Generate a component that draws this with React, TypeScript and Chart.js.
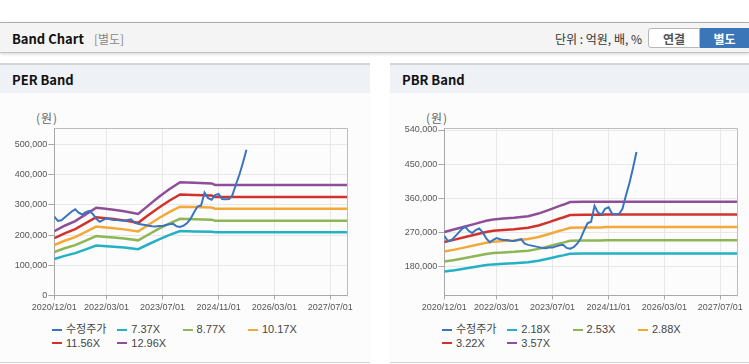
import React, { useEffect, useRef } from "react";
import { Chart, registerables } from "chart.js";
Chart.register(...registerables);

// ---------- data ----------
const priceDates = [
  "2020-12-01", "2021-01-01", "2021-02-01", "2021-03-01", "2021-04-01", "2021-05-01", "2021-06-01", "2021-07-01", "2021-08-01", "2021-09-01", "2021-10-01", "2021-11-01",
  "2021-12-01", "2022-01-01", "2022-02-01", "2022-03-01", "2022-04-01", "2022-05-01", "2022-06-01", "2022-07-01", "2022-08-01", "2022-09-01", "2022-10-01", "2022-11-01",
  "2022-12-01", "2023-01-01", "2023-02-01", "2023-03-01", "2023-04-01", "2023-05-01", "2023-06-01", "2023-07-01", "2023-08-01", "2023-09-01", "2023-10-01", "2023-11-01",
  "2023-12-01", "2024-01-01", "2024-02-01", "2024-03-01", "2024-04-01", "2024-05-01", "2024-06-01", "2024-07-01", "2024-08-01", "2024-09-01", "2024-10-01", "2024-11-01",
  "2024-12-01", "2025-01-01", "2025-02-01", "2025-03-01", "2025-04-01", "2025-05-01", "2025-06-01", "2025-07-01",
];
const priceValues = [
  261000, 247000, 249000, 258000, 268000, 278000, 285000, 274000, 268000, 276000, 280000, 270000,
  254000, 244000, 250000, 255000, 252000, 250000, 250000, 248000, 247000, 250000, 252000, 240000,
  237000, 235000, 233000, 231000, 229000, 228000, 230000, 230000, 233000, 236000, 237000, 229000,
  227000, 231000, 240000, 253000, 275000, 294000, 298000, 340000, 322000, 317000, 332000, 336000,
  319000, 318000, 319000, 332000, 368000, 400000, 440000, 482000,
];

const perBandDates = [
  "2020-12-01", "2021-03-01", "2021-06-01", "2021-09-01", "2021-12-01", "2022-02-01", "2022-05-01", "2022-08-01",
  "2022-12-01", "2023-03-01", "2023-06-01", "2023-09-01", "2023-12-01", "2024-04-01", "2024-09-01", "2024-10-01", "2027-11-26",
];
const perBand737 = [120900, 131200, 140000, 152600, 165100, 163600, 161400, 158500, 153300, 169500, 185700, 200500, 213000, 211900, 210800, 209500, 209500];
const perBand877 = [143800, 156100, 166600, 181500, 196400, 194700, 192100, 188600, 182400, 201700, 221000, 238500, 253500, 252100, 250800, 247300, 247300];
const perBand1017 = [166800, 181000, 193200, 210500, 227800, 225800, 222700, 218700, 211500, 233900, 256300, 276600, 293900, 292400, 290900, 286800, 286800];
const perBand1156 = [189600, 205800, 219600, 239300, 258900, 256600, 253200, 248500, 240400, 265900, 291300, 314400, 334100, 332400, 330600, 326000, 326000];
const perBand1296 = [212500, 230700, 246200, 268300, 290300, 287700, 283800, 278600, 269600, 298100, 326600, 352500, 374500, 372600, 370700, 365500, 365500];
const perNames = ["수정주가", "7.37X", "8.77X", "10.17X", "11.56X", "12.96X"];
const perYTicks = [0, 100000, 200000, 300000, 400000, 500000];

const pbrBandDates = [
  "2020-12-01", "2021-03-01", "2021-06-01", "2021-09-01", "2021-12-01", "2022-02-01", "2022-05-01", "2022-08-01",
  "2022-12-01", "2023-03-01", "2023-06-01", "2023-09-01", "2023-10-01", "2023-12-01", "2024-04-01", "2024-09-01", "2024-10-01", "2027-11-26",
];
const pbrBand218 = [166500, 169800, 174400, 179000, 183600, 185500, 187000, 188400, 191000, 195100, 201000, 207500, 209300, 213600, 214100, 214100, 214500, 214500];
const pbrBand253 = [193000, 197100, 202400, 207700, 213000, 215300, 217100, 218600, 221600, 226400, 233300, 240900, 242900, 247900, 248400, 248400, 249000, 249000];
const pbrBand288 = [219500, 224400, 230400, 236400, 242500, 245100, 247100, 248800, 252300, 257800, 265500, 274200, 276500, 282200, 282800, 282800, 284000, 284000];
const pbrBand322 = [244400, 250800, 257600, 264400, 271100, 274000, 276300, 278200, 282100, 288200, 296900, 306500, 309100, 315600, 316200, 316200, 317000, 317000];
const pbrBand357 = [271000, 278100, 285600, 293100, 300600, 303800, 306300, 308400, 312700, 319500, 329200, 339900, 342700, 349900, 350600, 350600, 351000, 351000];
const pbrNames = ["수정주가", "2.18X", "2.53X", "2.88X", "3.22X", "3.57X"];
const pbrYTicks = [180000, 270000, 360000, 450000, 540000];

const xTickLabels = ["2020/12/01", "2022/03/01", "2023/07/01", "2024/11/01", "2026/03/01", "2027/07/01"];
const xMinDate = "2020-12-01";
const xMaxDate = "2027-11-26";

const seriesColors = ["#3a74c0", "#24b0c5", "#8fb655", "#f4a83a", "#d2322d", "#8e4f98"];

// ---------- helpers ----------
const toMs = (s: string) => {
  const [y, m, d] = s.split(/[-/]/).map(Number);
  return Date.UTC(y, m - 1, d);
};

const FONT_KR = '"Noto Sans CJK KR", "Liberation Sans", sans-serif';
const FONT_TICK = '"Liberation Sans", Arial, sans-serif';

const CANVAS_W = 370;
const CANVAS_H = 222;

const framePlugin = {
  id: "frame",
  afterDatasetsDraw(chart: any) {
    const { ctx, chartArea } = chart;
    const { left, top, right, bottom } = chartArea;
    ctx.save();
    ctx.strokeStyle = "#bdbdbd";
    ctx.lineWidth = 1;
    ctx.beginPath();
    ctx.moveTo(Math.round(left) + 0.5, Math.round(top) + 0.5);
    ctx.lineTo(Math.round(right) + 0.5, Math.round(top) + 0.5);
    ctx.lineTo(Math.round(right) + 0.5, Math.round(bottom) + 0.5);
    ctx.stroke();
    ctx.restore();
  },
};

type BandProps = {
  panelLeft: number;
  yMin: number;
  yMax: number;
  yTicks: number[];
  bandDates: string[];
  bands: number[][];
  names: string[];
};

function BandChart({ panelLeft, yMin, yMax, yTicks, bandDates, bands, names }: BandProps) {
  const ref = useRef<HTMLCanvasElement>(null);
  useEffect(() => {
    if (!ref.current) return;
    const datasets: any[] = [
      {
        label: names[0],
        data: priceDates.map((d, i) => ({ x: toMs(d), y: priceValues[i] })),
        borderColor: seriesColors[0],
        backgroundColor: seriesColors[0],
        borderWidth: 2,
        pointRadius: 0,
        tension: 0,
        fill: false,
      },
      ...bands.map((b, k) => ({
        label: names[k + 1],
        data: bandDates.map((d, i) => ({ x: toMs(d), y: b[i] })),
        borderColor: seriesColors[k + 1],
        backgroundColor: seriesColors[k + 1],
        borderWidth: 2.5,
        pointRadius: 0,
        tension: 0,
        fill: false,
      })),
    ];
    const tickFont = { family: FONT_TICK, size: 9 };
    const chart = new Chart(ref.current, {
      type: "line",
      data: { datasets },
      plugins: [framePlugin],
      options: {
        animation: false,
        responsive: false,
        maintainAspectRatio: false,
        layout: { padding: { top: 33.3, right: 22.7, left: 0, bottom: 0 } },
        plugins: { legend: { display: false }, tooltip: { enabled: false } },
        scales: {
          x: {
            type: "linear",
            min: toMs(xMinDate),
            max: toMs(xMaxDate),
            afterBuildTicks: (s: any) => {
              s.ticks = xTickLabels.map((l) => ({ value: toMs(l) }));
            },
            afterFit: (s: any) => {
              s.height = 21.5;
            },
            ticks: {
              autoSkip: false,
              maxRotation: 0,
              minRotation: 0,
              padding: 3,
              color: "#555",
              font: tickFont,
              callback: (_v: any, i: number) => xTickLabels[i],
            },
            grid: { color: "#e8e8e8", tickColor: "#a8a8a8", tickLength: 4, lineWidth: 1 },
            border: { color: "#a8a8a8", width: 1 },
          },
          y: {
            type: "linear",
            min: yMin,
            max: yMax,
            afterBuildTicks: (s: any) => {
              s.ticks = yTicks.map((v) => ({ value: v }));
            },
            afterFit: (s: any) => {
              s.width = 54.3;
            },
            ticks: {
              padding: 1,
              color: "#555",
              font: tickFont,
              callback: (v: any) => Number(v).toLocaleString("en-US"),
            },
            grid: { color: "#e8e8e8", tickColor: "#a8a8a8", tickLength: 6, lineWidth: 1 },
            border: { color: "#a8a8a8", width: 1 },
          },
        },
      } as any,
    });
    return () => chart.destroy();
  }, []);

  return (
    <>
      <div
        style={{
          position: "absolute",
          left: panelLeft + 36,
          top: 110,
          fontFamily: FONT_KR,
          fontSize: 12,
          letterSpacing: 1,
          color: "#666",
          lineHeight: "16px",
        }}
      >
        (원)
      </div>
      <canvas
        ref={ref}
        width={CANVAS_W}
        height={CANVAS_H}
        style={{ position: "absolute", left: panelLeft, top: 95, width: CANVAS_W, height: CANVAS_H }}
      />
      <div
        style={{
          position: "absolute",
          left: panelLeft + 52,
          top: 323.3,
          display: "grid",
          gridTemplateColumns: "repeat(4, 65.3px)",
          lineHeight: "13.3px",
          fontSize: 11,
          fontFamily: FONT_TICK + ', "Noto Sans CJK KR"',
          color: "#444",
        }}
      >
        {names.map((n, i) => (
          <div key={i} style={{ display: "flex", alignItems: "center", whiteSpace: "nowrap", height: 13.3 }}>
            <span
              style={{
                display: "inline-block",
                width: 10,
                height: 2.5,
                background: seriesColors[i],
                marginRight: 4,
              }}
            />
            {n}
          </div>
        ))}
      </div>
    </>
  );
}

function Panel({ left, width, title }: { left: number; width: number; title: string }) {
  return (
    <>
      <div
        style={{
          position: "absolute",
          left,
          top: 63,
          width,
          height: 300,
          background: "#fcfcfc",
          borderTop: "2px solid #d4d4d4",
          borderBottom: "1px solid #d4d4d4",
          boxSizing: "border-box",
        }}
      />
      <div
        style={{
          position: "absolute",
          left,
          top: 65,
          width,
          height: 28,
          background: "#eef2f7",
        }}
      />
      <div
        style={{
          position: "absolute",
          left: left + 12,
          top: 65,
          height: 28,
          display: "flex",
          alignItems: "center",
          fontFamily: FONT_KR,
          fontWeight: 700,
          fontSize: 13,
          color: "#111",
        }}
      >
        {title}
      </div>
    </>
  );
}

export default function App() {
  return (
    <div
      style={{
        position: "relative",
        width: 749,
        height: 364,
        overflow: "hidden",
        background: "#fff",
      }}
    >
      <style>{`body{margin:0;}`}</style>
      {/* header */}
      <div
        style={{
          position: "absolute",
          left: 0,
          top: 22,
          width: 749,
          height: 31,
          background: "#f4f4f4",
          borderTop: "1px solid #adadad",
          borderBottom: "1px solid #c4c4c4",
          boxShadow: "0 1px 3px rgba(0,0,0,0.18)",
          boxSizing: "border-box",
        }}
      />
      <div
        style={{
          position: "absolute",
          left: 12,
          top: 23,
          height: 30,
          display: "flex",
          alignItems: "center",
          fontFamily: FONT_KR,
        }}
      >
        <span style={{ fontWeight: 700, fontSize: 13, color: "#111" }}>Band Chart</span>
        <span style={{ fontSize: 12, color: "#8a8a8a", marginLeft: 10 }}>[별도]</span>
      </div>
      <div
        style={{
          position: "absolute",
          right: 107,
          top: 23,
          height: 30,
          display: "flex",
          alignItems: "center",
          fontFamily: FONT_KR,
          fontSize: 12,
          color: "#333",
        }}
      >
        단위 : 억원, 배, %
      </div>
      <div
        style={{
          position: "absolute",
          left: 648,
          top: 28,
          width: 52,
          height: 20,
          boxSizing: "border-box",
          border: "1px solid #b8b8b8",
          borderRadius: "3px 0 0 3px",
          background: "#fff",
          display: "flex",
          alignItems: "center",
          justifyContent: "center",
          fontFamily: FONT_KR,
          fontWeight: 700,
          fontSize: 12,
          color: "#555",
        }}
      >
        연결
      </div>
      <div
        style={{
          position: "absolute",
          left: 700,
          top: 28,
          width: 49,
          height: 20,
          boxSizing: "border-box",
          background: "#3a76b8",
          display: "flex",
          alignItems: "center",
          justifyContent: "center",
          fontFamily: FONT_KR,
          fontWeight: 700,
          fontSize: 12,
          color: "#fff",
        }}
      >
        별도
      </div>

      <Panel left={0} width={370} title="PER Band" />
      <Panel left={390} width={370} title="PBR Band" />

      <BandChart
        panelLeft={0}
        yMin={0}
        yMax={553000}
        yTicks={perYTicks}
        bandDates={perBandDates}
        bands={[perBand737, perBand877, perBand1017, perBand1156, perBand1296]}
        names={perNames}
      />
      <BandChart
        panelLeft={390}
        yMin={103400}
        yMax={544500}
        yTicks={pbrYTicks}
        bandDates={pbrBandDates}
        bands={[pbrBand218, pbrBand253, pbrBand288, pbrBand322, pbrBand357]}
        names={pbrNames}
      />
    </div>
  );
}
